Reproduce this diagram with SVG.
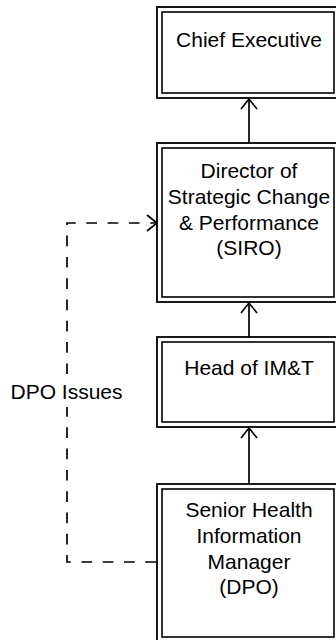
<svg xmlns="http://www.w3.org/2000/svg" width="336" height="640" viewBox="0 0 336 640">
<defs>
<style>
.o{fill:none;stroke:#000;stroke-width:1.8}
.i{fill:none;stroke:#000;stroke-width:1.6}
.t{font-family:"Liberation Sans",Arial,sans-serif;font-size:21px;fill:#000;text-anchor:middle}
.c{fill:none;stroke:#000;stroke-width:1.7}
.d{fill:none;stroke:#000;stroke-width:1.7;stroke-dasharray:10.7 10.6}
</style>
<marker id="ah" viewBox="-11 -9 13 18" refX="0" refY="0" markerWidth="13" markerHeight="18" markerUnits="userSpaceOnUse" orient="auto">
<path d="M-10,-8 L0,0 L-10,8" fill="none" stroke="#000" stroke-width="1.7"/>
</marker>
</defs>
<rect width="336" height="640" fill="#fff"/>
<g id="chief">
<rect class="o" x="157" y="7" width="182" height="91"/>
<rect class="i" x="162" y="12" width="172" height="81"/>
<text class="t" x="249" y="47">Chief Executive</text>
</g>
<g id="director">
<rect class="o" x="157" y="143" width="182" height="159"/>
<rect class="i" x="162" y="148" width="172" height="149"/>
<text class="t" x="249" y="178">Director of</text>
<text class="t" x="249" y="204">Strategic Change</text>
<text class="t" x="249" y="230">&amp; Performance</text>
<text class="t" x="249" y="255">(SIRO)</text>
</g>
<g id="head">
<rect class="o" x="157" y="337" width="182" height="90"/>
<rect class="i" x="162" y="342" width="172" height="80"/>
<text class="t" x="249" y="375">Head of IM&amp;T</text>
</g>
<g id="senior">
<rect class="o" x="157" y="484" width="182" height="158"/>
<rect class="i" x="162" y="489" width="172" height="148"/>
<text class="t" x="249" y="517">Senior Health</text>
<text class="t" x="249" y="543">Information</text>
<text class="t" x="249" y="569">Manager</text>
<text class="t" x="249" y="594">(DPO)</text>
</g>
<g id="connectors">
<line class="c" x1="249" y1="143" x2="249" y2="99" marker-end="url(#ah)"/>
<line class="c" x1="249" y1="337" x2="249" y2="303" marker-end="url(#ah)"/>
<line class="c" x1="249" y1="484" x2="249" y2="428" marker-end="url(#ah)"/>
<path class="d" d="M156,562 H67 V223 H157" marker-end="url(#ah)"/>
<rect x="8" y="379" width="118" height="28" fill="#fff"/>
<text class="t" x="66.5" y="399">DPO Issues</text>
</g>
</svg>
